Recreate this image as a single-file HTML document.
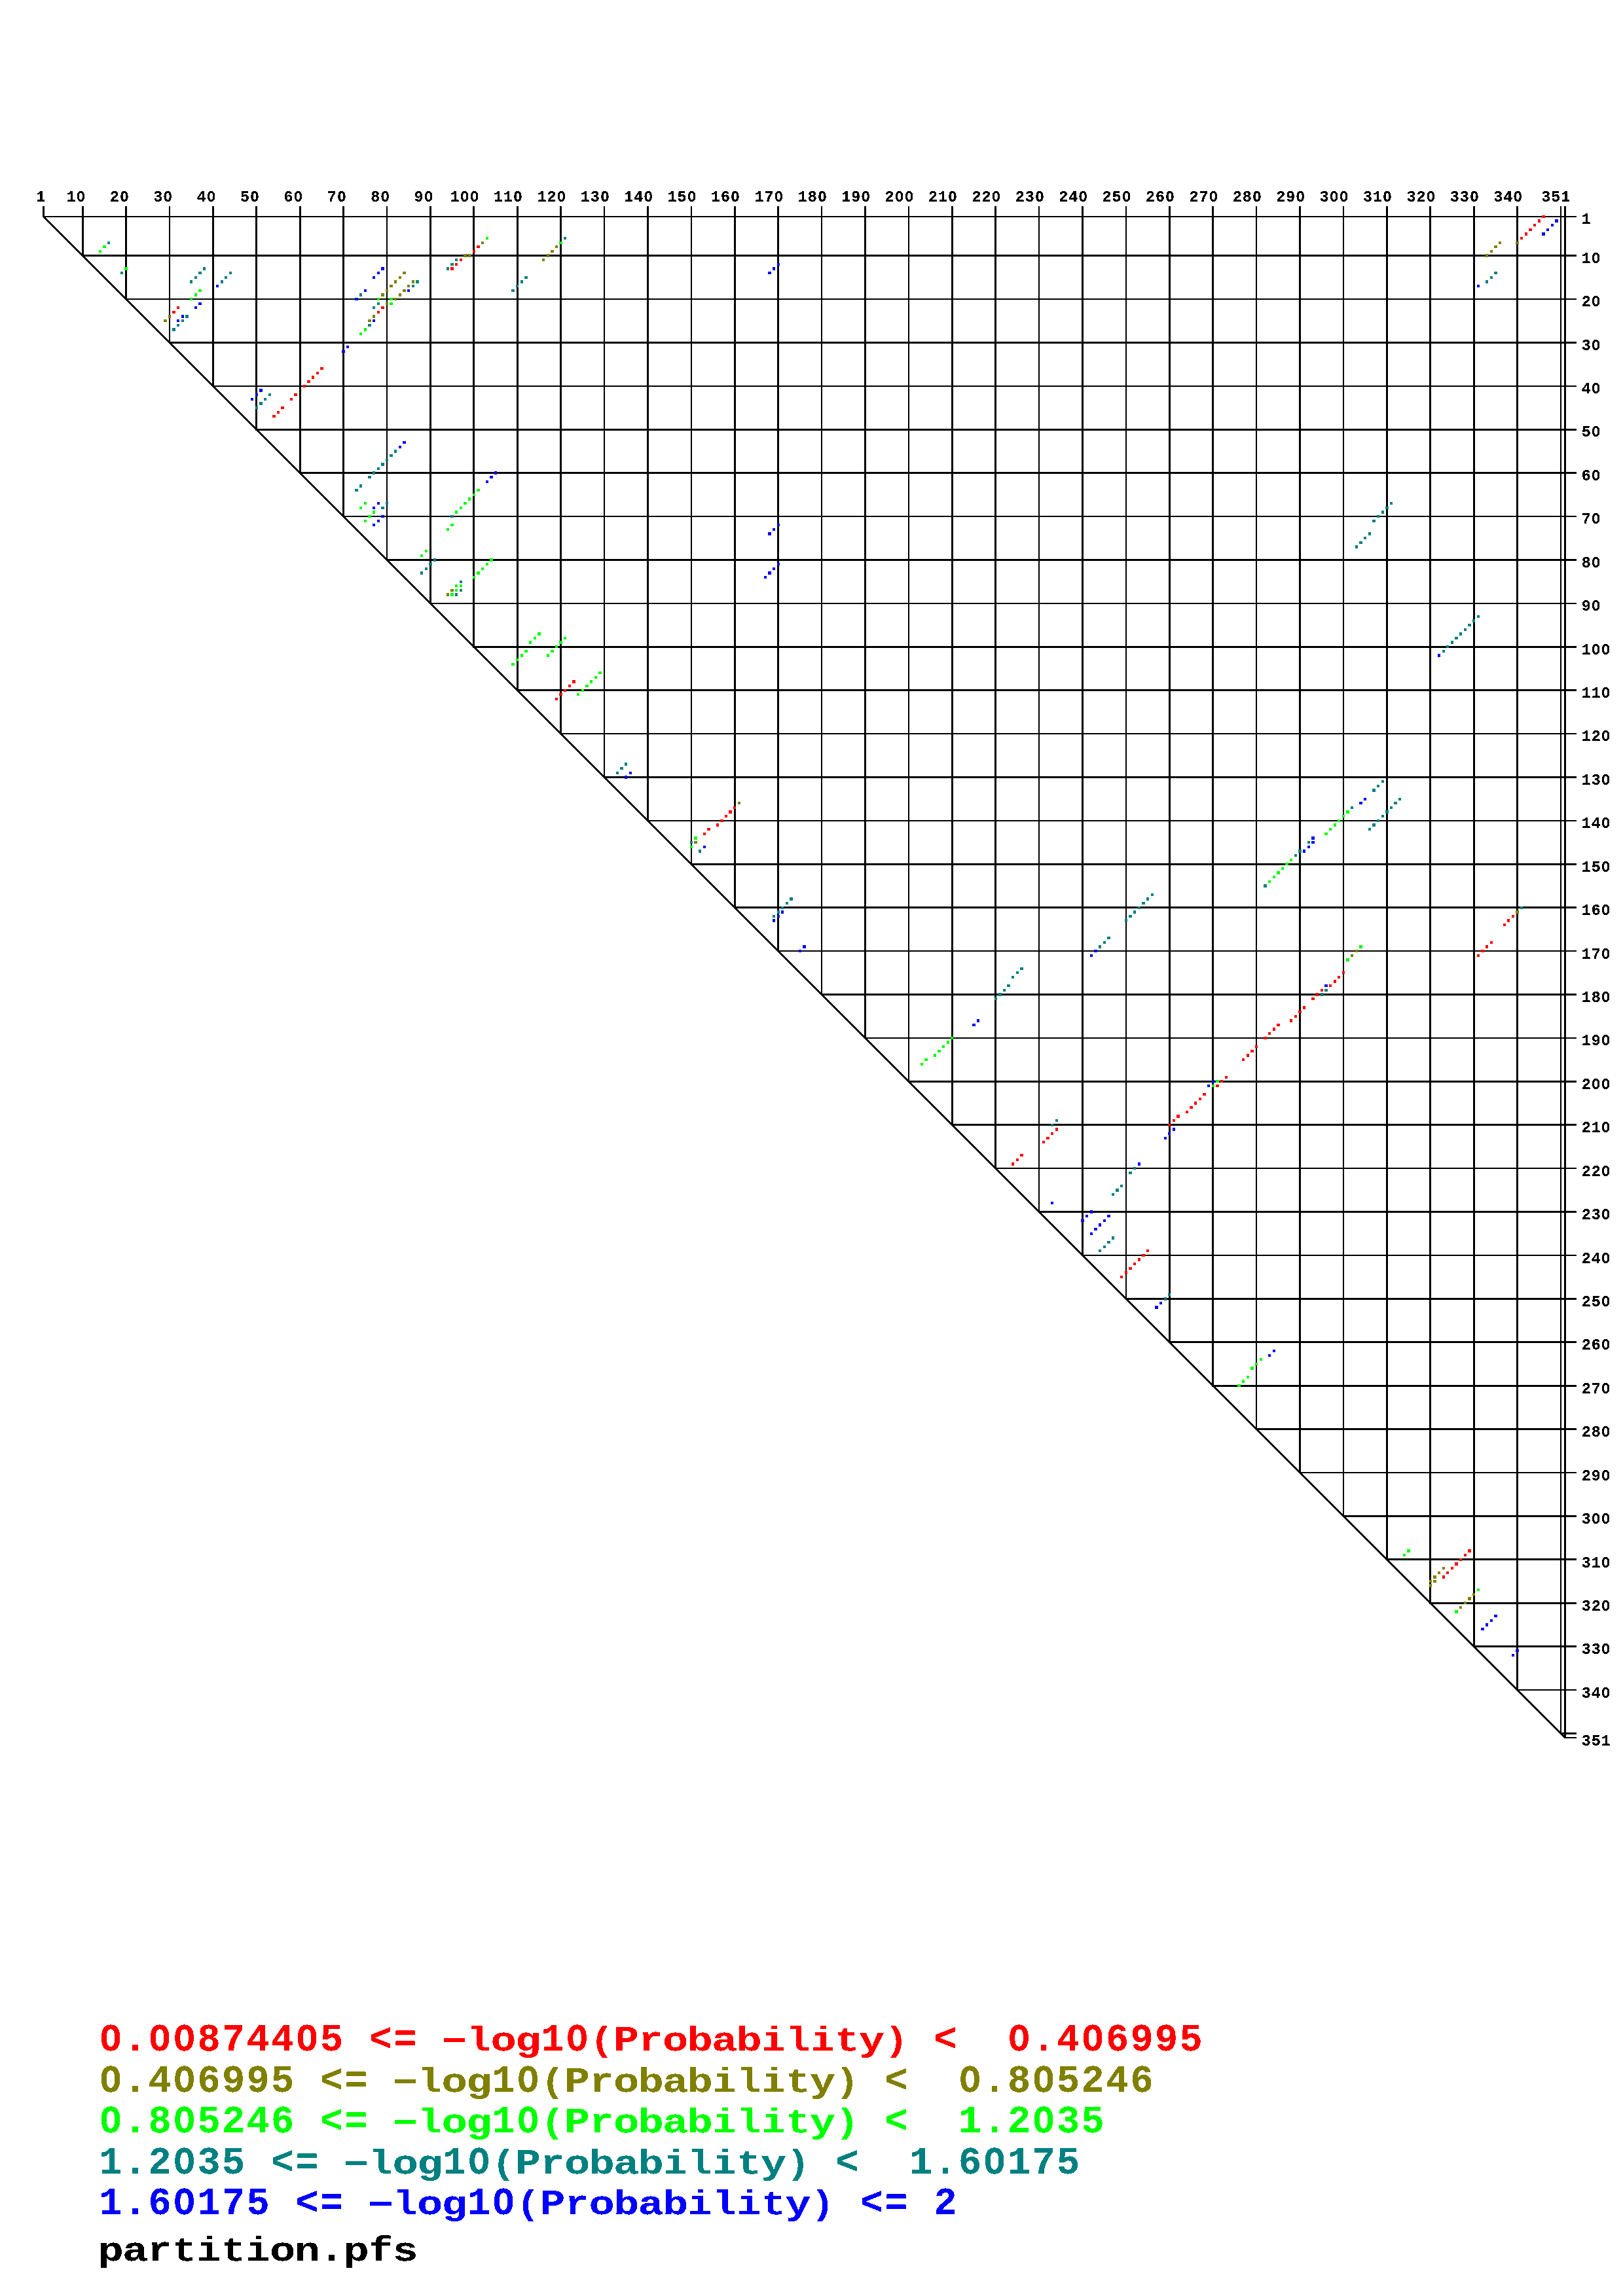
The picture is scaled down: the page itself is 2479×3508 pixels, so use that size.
<!DOCTYPE html>
<html><head><meta charset="utf-8"><title>partition.pfs</title>
<style>html,body{margin:0;padding:0;background:#fff;}body{width:2479px;height:3508px;overflow:hidden;position:relative;}svg{display:block;position:absolute;left:0;top:0;}text{font-family:"Liberation Mono",monospace;font-weight:bold;}.ax{font-size:23.4px;fill:#000;}.lg{font-size:58.5px;}</style></head><body>
<svg width="2479" height="3508" viewBox="0 0 2479 3508">
<defs><filter id="bin" x="-2%" y="-10%" width="104%" height="120%" color-interpolation-filters="sRGB"><feComponentTransfer><feFuncA type="discrete" tableValues="0 0 1 1 1"/></feComponentTransfer></filter></defs>
<rect width="2479" height="3508" fill="#fff"/>
<g fill="#000" shape-rendering="crispEdges">
<rect x="65" y="315" width="3" height="17"/>
<rect x="65" y="330" width="2343" height="2"/>
<rect x="125" y="315" width="3" height="77"/>
<rect x="125" y="389" width="2283" height="3"/>
<rect x="191" y="315" width="3" height="143"/>
<rect x="191" y="456" width="2217" height="2"/>
<rect x="258" y="315" width="2" height="210"/>
<rect x="258" y="522" width="2150" height="3"/>
<rect x="324" y="315" width="3" height="276"/>
<rect x="324" y="589" width="2084" height="2"/>
<rect x="390" y="315" width="3" height="343"/>
<rect x="390" y="655" width="2018" height="3"/>
<rect x="457" y="315" width="3" height="409"/>
<rect x="457" y="721" width="1951" height="3"/>
<rect x="523" y="315" width="3" height="475"/>
<rect x="523" y="788" width="1885" height="2"/>
<rect x="590" y="315" width="2" height="542"/>
<rect x="590" y="854" width="1818" height="3"/>
<rect x="656" y="315" width="3" height="608"/>
<rect x="656" y="921" width="1752" height="2"/>
<rect x="722" y="315" width="3" height="675"/>
<rect x="722" y="987" width="1686" height="3"/>
<rect x="789" y="315" width="3" height="741"/>
<rect x="789" y="1053" width="1619" height="3"/>
<rect x="855" y="315" width="3" height="807"/>
<rect x="855" y="1120" width="1553" height="2"/>
<rect x="922" y="315" width="2" height="874"/>
<rect x="922" y="1186" width="1486" height="3"/>
<rect x="988" y="315" width="3" height="940"/>
<rect x="988" y="1253" width="1420" height="2"/>
<rect x="1055" y="315" width="2" height="1007"/>
<rect x="1055" y="1319" width="1353" height="3"/>
<rect x="1121" y="315" width="3" height="1073"/>
<rect x="1121" y="1385" width="1287" height="3"/>
<rect x="1187" y="315" width="3" height="1139"/>
<rect x="1187" y="1452" width="1221" height="2"/>
<rect x="1254" y="315" width="2" height="1206"/>
<rect x="1254" y="1518" width="1154" height="3"/>
<rect x="1320" y="315" width="3" height="1272"/>
<rect x="1320" y="1585" width="1088" height="2"/>
<rect x="1387" y="315" width="2" height="1339"/>
<rect x="1387" y="1651" width="1021" height="3"/>
<rect x="1453" y="315" width="3" height="1405"/>
<rect x="1453" y="1717" width="955" height="3"/>
<rect x="1519" y="315" width="3" height="1471"/>
<rect x="1519" y="1784" width="889" height="2"/>
<rect x="1586" y="315" width="2" height="1538"/>
<rect x="1586" y="1850" width="822" height="3"/>
<rect x="1652" y="315" width="3" height="1604"/>
<rect x="1652" y="1917" width="756" height="2"/>
<rect x="1719" y="315" width="2" height="1671"/>
<rect x="1719" y="1983" width="689" height="3"/>
<rect x="1785" y="315" width="3" height="1737"/>
<rect x="1785" y="2049" width="623" height="3"/>
<rect x="1851" y="315" width="3" height="1804"/>
<rect x="1851" y="2116" width="557" height="3"/>
<rect x="1918" y="315" width="2" height="1870"/>
<rect x="1918" y="2182" width="490" height="3"/>
<rect x="1984" y="315" width="3" height="1936"/>
<rect x="1984" y="2249" width="424" height="2"/>
<rect x="2051" y="315" width="2" height="2003"/>
<rect x="2051" y="2315" width="357" height="3"/>
<rect x="2117" y="315" width="3" height="2069"/>
<rect x="2117" y="2381" width="291" height="3"/>
<rect x="2183" y="315" width="3" height="2136"/>
<rect x="2183" y="2448" width="225" height="3"/>
<rect x="2250" y="315" width="3" height="2202"/>
<rect x="2250" y="2514" width="158" height="3"/>
<rect x="2316" y="315" width="3" height="2268"/>
<rect x="2316" y="2581" width="92" height="2"/>
<rect x="2383" y="315" width="2" height="2335"/>
<rect x="2383" y="2647" width="25" height="3"/>
<rect x="2389" y="315" width="3" height="2341"/>
<rect x="2389" y="2654" width="19" height="2"/>
<line x1="66.41" y1="330.85" x2="2391.03" y2="2655.47" stroke="#000" stroke-width="2.8"/>
</g>
<g class="ax" filter="url(#bin)">
<text x="55.2" y="308.0">1</text>
<text transform="translate(116.99 308.0) scale(0.9161 1)">O</text>
<text x="101.4" y="308.0">1</text>
<text transform="translate(183.39 308.0) scale(0.9161 1)">O</text>
<text x="167.8" y="308.0">2</text>
<text transform="translate(249.79 308.0) scale(0.9161 1)">O</text>
<text x="234.2" y="308.0">3</text>
<text transform="translate(316.19 308.0) scale(0.9161 1)">O</text>
<text x="300.6" y="308.0">4</text>
<text transform="translate(382.59 308.0) scale(0.9161 1)">O</text>
<text x="367.0" y="308.0">5</text>
<text transform="translate(448.99 308.0) scale(0.9161 1)">O</text>
<text x="433.4" y="308.0">6</text>
<text transform="translate(515.39 308.0) scale(0.9161 1)">O</text>
<text x="499.8" y="308.0">7</text>
<text transform="translate(581.79 308.0) scale(0.9161 1)">O</text>
<text x="566.2" y="308.0">8</text>
<text transform="translate(648.19 308.0) scale(0.9161 1)">O</text>
<text x="632.6" y="308.0">9</text>
<text transform="translate(703.19 308.0) scale(0.9161 1)">O</text>
<text transform="translate(718.19 308.0) scale(0.9161 1)">O</text>
<text x="687.6" y="308.0">1</text>
<text transform="translate(784.59 308.0) scale(0.9161 1)">O</text>
<text x="754.0 769.0" y="308.0">11</text>
<text transform="translate(850.99 308.0) scale(0.9161 1)">O</text>
<text x="820.4 835.4" y="308.0">12</text>
<text transform="translate(917.39 308.0) scale(0.9161 1)">O</text>
<text x="886.8 901.8" y="308.0">13</text>
<text transform="translate(983.79 308.0) scale(0.9161 1)">O</text>
<text x="953.2 968.2" y="308.0">14</text>
<text transform="translate(1050.19 308.0) scale(0.9161 1)">O</text>
<text x="1019.6 1034.6" y="308.0">15</text>
<text transform="translate(1116.59 308.0) scale(0.9161 1)">O</text>
<text x="1086.0 1101.0" y="308.0">16</text>
<text transform="translate(1182.99 308.0) scale(0.9161 1)">O</text>
<text x="1152.4 1167.4" y="308.0">17</text>
<text transform="translate(1249.39 308.0) scale(0.9161 1)">O</text>
<text x="1218.8 1233.8" y="308.0">18</text>
<text transform="translate(1315.79 308.0) scale(0.9161 1)">O</text>
<text x="1285.2 1300.2" y="308.0">19</text>
<text transform="translate(1367.19 308.0) scale(0.9161 1)">O</text>
<text transform="translate(1382.19 308.0) scale(0.9161 1)">O</text>
<text x="1351.6" y="308.0">2</text>
<text transform="translate(1448.59 308.0) scale(0.9161 1)">O</text>
<text x="1418.0 1433.0" y="308.0">21</text>
<text transform="translate(1514.99 308.0) scale(0.9161 1)">O</text>
<text x="1484.4 1499.4" y="308.0">22</text>
<text transform="translate(1581.39 308.0) scale(0.9161 1)">O</text>
<text x="1550.8 1565.8" y="308.0">23</text>
<text transform="translate(1647.79 308.0) scale(0.9161 1)">O</text>
<text x="1617.2 1632.2" y="308.0">24</text>
<text transform="translate(1714.19 308.0) scale(0.9161 1)">O</text>
<text x="1683.6 1698.6" y="308.0">25</text>
<text transform="translate(1780.59 308.0) scale(0.9161 1)">O</text>
<text x="1750.0 1765.0" y="308.0">26</text>
<text transform="translate(1846.99 308.0) scale(0.9161 1)">O</text>
<text x="1816.4 1831.4" y="308.0">27</text>
<text transform="translate(1913.39 308.0) scale(0.9161 1)">O</text>
<text x="1882.8 1897.8" y="308.0">28</text>
<text transform="translate(1979.79 308.0) scale(0.9161 1)">O</text>
<text x="1949.2 1964.2" y="308.0">29</text>
<text transform="translate(2031.19 308.0) scale(0.9161 1)">O</text>
<text transform="translate(2046.19 308.0) scale(0.9161 1)">O</text>
<text x="2015.6" y="308.0">3</text>
<text transform="translate(2112.59 308.0) scale(0.9161 1)">O</text>
<text x="2082.0 2097.0" y="308.0">31</text>
<text transform="translate(2178.99 308.0) scale(0.9161 1)">O</text>
<text x="2148.4 2163.4" y="308.0">32</text>
<text transform="translate(2245.39 308.0) scale(0.9161 1)">O</text>
<text x="2214.8 2229.8" y="308.0">33</text>
<text transform="translate(2311.79 308.0) scale(0.9161 1)">O</text>
<text x="2281.2 2296.2" y="308.0">34</text>
<text x="2354.2 2369.2 2384.2" y="308.0">351</text>
<text x="2415.8" y="341.8">1</text>
<text transform="translate(2431.33 401.6) scale(0.9161 1)">O</text>
<text x="2415.8" y="401.6">1</text>
<text transform="translate(2431.33 468.1) scale(0.9161 1)">O</text>
<text x="2415.8" y="468.1">2</text>
<text transform="translate(2431.33 534.5) scale(0.9161 1)">O</text>
<text x="2415.8" y="534.5">3</text>
<text transform="translate(2431.33 600.9) scale(0.9161 1)">O</text>
<text x="2415.8" y="600.9">4</text>
<text transform="translate(2431.33 667.3) scale(0.9161 1)">O</text>
<text x="2415.8" y="667.3">5</text>
<text transform="translate(2431.33 733.8) scale(0.9161 1)">O</text>
<text x="2415.8" y="733.8">6</text>
<text transform="translate(2431.33 800.2) scale(0.9161 1)">O</text>
<text x="2415.8" y="800.2">7</text>
<text transform="translate(2431.33 866.6) scale(0.9161 1)">O</text>
<text x="2415.8" y="866.6">8</text>
<text transform="translate(2431.33 933.1) scale(0.9161 1)">O</text>
<text x="2415.8" y="933.1">9</text>
<text transform="translate(2431.33 999.5) scale(0.9161 1)">O</text>
<text transform="translate(2446.33 999.5) scale(0.9161 1)">O</text>
<text x="2415.8" y="999.5">1</text>
<text transform="translate(2446.33 1065.9) scale(0.9161 1)">O</text>
<text x="2415.8 2430.8" y="1065.9">11</text>
<text transform="translate(2446.33 1132.4) scale(0.9161 1)">O</text>
<text x="2415.8 2430.8" y="1132.4">12</text>
<text transform="translate(2446.33 1198.8) scale(0.9161 1)">O</text>
<text x="2415.8 2430.8" y="1198.8">13</text>
<text transform="translate(2446.33 1265.2) scale(0.9161 1)">O</text>
<text x="2415.8 2430.8" y="1265.2">14</text>
<text transform="translate(2446.33 1331.6) scale(0.9161 1)">O</text>
<text x="2415.8 2430.8" y="1331.6">15</text>
<text transform="translate(2446.33 1398.1) scale(0.9161 1)">O</text>
<text x="2415.8 2430.8" y="1398.1">16</text>
<text transform="translate(2446.33 1464.5) scale(0.9161 1)">O</text>
<text x="2415.8 2430.8" y="1464.5">17</text>
<text transform="translate(2446.33 1530.9) scale(0.9161 1)">O</text>
<text x="2415.8 2430.8" y="1530.9">18</text>
<text transform="translate(2446.33 1597.4) scale(0.9161 1)">O</text>
<text x="2415.8 2430.8" y="1597.4">19</text>
<text transform="translate(2431.33 1663.8) scale(0.9161 1)">O</text>
<text transform="translate(2446.33 1663.8) scale(0.9161 1)">O</text>
<text x="2415.8" y="1663.8">2</text>
<text transform="translate(2446.33 1730.2) scale(0.9161 1)">O</text>
<text x="2415.8 2430.8" y="1730.2">21</text>
<text transform="translate(2446.33 1796.7) scale(0.9161 1)">O</text>
<text x="2415.8 2430.8" y="1796.7">22</text>
<text transform="translate(2446.33 1863.1) scale(0.9161 1)">O</text>
<text x="2415.8 2430.8" y="1863.1">23</text>
<text transform="translate(2446.33 1929.5) scale(0.9161 1)">O</text>
<text x="2415.8 2430.8" y="1929.5">24</text>
<text transform="translate(2446.33 1996.0) scale(0.9161 1)">O</text>
<text x="2415.8 2430.8" y="1996.0">25</text>
<text transform="translate(2446.33 2062.4) scale(0.9161 1)">O</text>
<text x="2415.8 2430.8" y="2062.4">26</text>
<text transform="translate(2446.33 2128.8) scale(0.9161 1)">O</text>
<text x="2415.8 2430.8" y="2128.8">27</text>
<text transform="translate(2446.33 2195.2) scale(0.9161 1)">O</text>
<text x="2415.8 2430.8" y="2195.2">28</text>
<text transform="translate(2446.33 2261.7) scale(0.9161 1)">O</text>
<text x="2415.8 2430.8" y="2261.7">29</text>
<text transform="translate(2431.33 2328.1) scale(0.9161 1)">O</text>
<text transform="translate(2446.33 2328.1) scale(0.9161 1)">O</text>
<text x="2415.8" y="2328.1">3</text>
<text transform="translate(2446.33 2394.5) scale(0.9161 1)">O</text>
<text x="2415.8 2430.8" y="2394.5">31</text>
<text transform="translate(2446.33 2461.0) scale(0.9161 1)">O</text>
<text x="2415.8 2430.8" y="2461.0">32</text>
<text transform="translate(2446.33 2527.4) scale(0.9161 1)">O</text>
<text x="2415.8 2430.8" y="2527.4">33</text>
<text transform="translate(2446.33 2593.8) scale(0.9161 1)">O</text>
<text x="2415.8 2430.8" y="2593.8">34</text>
<text x="2415.8 2430.8 2445.8" y="2666.9">351</text>
</g>
<g shape-rendering="crispEdges">
<path fill="#0000ff" d="M330 435h4v4h-4zM297 468h4v4h-4zM303 462h5v4h-5zM270 488h4v4h-4zM277 481h4v5h-4zM383 608h4v4h-4zM390 601h4v4h-4zM396 594h5v5h-5zM522 535h5v4h-5zM529 528h4v4h-4zM569 422h4v4h-4zM576 415h4v4h-4zM582 408h5v5h-5zM542 455h5v4h-5zM556 442h4v4h-4zM569 488h4v4h-4zM622 442h4v4h-4zM1173 415h5v4h-5zM1180 408h4v5h-4zM1187 402h4v4h-4zM2355 355h5v5h-5zM2362 349h4v4h-4zM2369 342h4v4h-4zM2375 335h5v5h-5zM2256 435h4v4h-4zM609 681h4v4h-4zM615 674h5v4h-5zM569 774h4v4h-4zM576 767h4v4h-4zM569 800h4v4h-4zM576 794h4v4h-4zM582 787h5v4h-5zM742 734h4v4h-4zM748 727h5v4h-5zM755 720h4v5h-4zM954 1185h4v5h-4zM961 1179h4v4h-4zM1173 813h5v5h-5zM1180 807h4v4h-4zM1187 800h4v4h-4zM1167 880h4v4h-4zM1173 873h5v5h-5zM1180 867h4v4h-4zM1187 860h4v4h-4zM2196 999h4v5h-4zM1074 1292h4v4h-4zM1180 1404h4v5h-4zM1187 1398h4v4h-4zM1193 1391h4v5h-4zM1220 1451h4v4h-4zM1226 1444h5v5h-5zM2003 1278h5v5h-5zM1990 1298h4v5h-4zM1997 1292h4v4h-4zM2003 1285h5v4h-5zM2076 1225h5v4h-5zM2083 1219h4v4h-4zM2023 1504h5v4h-5zM1844 1657h4v4h-4zM1851 1650h4v4h-4zM1778 1737h4v4h-4zM1784 1730h4v4h-4zM1791 1723h4v5h-4zM1665 1458h4v4h-4zM1671 1451h5v4h-5zM1485 1564h5v4h-5zM1492 1557h4v5h-4zM1605 1836h4v4h-4zM1738 1776h4v5h-4zM1651 1863h5v4h-5zM1658 1856h4v4h-4zM1665 1849h4v5h-4zM1665 1883h4v4h-4zM1671 1876h5v4h-5zM1678 1869h4v5h-4zM1685 1863h4v4h-4zM1691 1856h5v4h-5zM1764 1995h5v5h-5zM1771 1989h4v4h-4zM1937 2069h4v4h-4zM1944 2062h4v4h-4zM2262 2487h5v4h-5zM2269 2480h4v5h-4zM2276 2474h4v4h-4zM2282 2467h5v4h-5zM2309 2527h4v4h-4zM2315 2520h5v4h-5z"/>
<path fill="#008080" d="M164 369h4v4h-4zM184 415h4v4h-4zM290 428h4v5h-4zM297 422h4v4h-4zM303 415h5v4h-5zM310 408h4v5h-4zM337 428h4v5h-4zM343 422h4v4h-4zM350 415h4v4h-4zM263 501h5v5h-5zM270 495h4v4h-4zM277 488h4v4h-4zM283 481h5v5h-5zM390 621h4v4h-4zM396 614h5v5h-5zM403 608h4v4h-4zM410 601h4v4h-4zM549 448h4v5h-4zM569 468h4v4h-4zM576 462h4v4h-4zM562 495h5v4h-5zM629 435h4v4h-4zM635 428h5v5h-5zM682 408h4v5h-4zM688 402h5v4h-5zM695 395h4v4h-4zM781 442h5v4h-5zM788 435h4v4h-4zM795 428h4v5h-4zM801 422h5v4h-5zM861 362h4v4h-4zM2269 428h4v5h-4zM2276 422h4v4h-4zM2282 415h5v4h-5zM542 747h5v4h-5zM549 740h4v5h-4zM562 727h5v4h-5zM569 720h4v5h-4zM576 714h4v4h-4zM582 707h5v5h-5zM589 701h4v4h-4zM595 694h5v4h-5zM602 687h4v5h-4zM582 774h5v4h-5zM589 767h4v4h-4zM688 787h5v4h-5zM642 873h4v5h-4zM649 867h4v4h-4zM655 860h5v4h-5zM662 853h4v5h-4zM702 887h4v4h-4zM695 906h4v5h-4zM702 900h4v4h-4zM941 1179h4v4h-4zM947 1172h5v4h-5zM954 1165h4v5h-4zM2070 833h4v5h-4zM2076 827h5v4h-5zM2083 820h4v4h-4zM2090 813h4v5h-4zM2096 794h5v4h-5zM2103 787h4v4h-4zM2110 780h4v5h-4zM2116 774h5v4h-5zM2123 767h4v4h-4zM2203 993h4v4h-4zM2209 986h4v4h-4zM2216 979h4v5h-4zM2222 973h5v4h-5zM2229 966h4v5h-4zM2236 960h4v4h-4zM2242 953h5v4h-5zM2249 946h4v5h-4zM2256 940h4v4h-4zM1054 1285h4v4h-4zM1067 1298h4v5h-4zM1180 1398h4v4h-4zM1187 1391h4v5h-4zM1193 1385h4v4h-4zM1200 1378h4v4h-4zM1206 1371h5v5h-5zM1930 1351h5v5h-5zM1977 1305h4v4h-4zM1983 1298h5v5h-5zM1997 1285h4v4h-4zM2063 1232h4v4h-4zM2096 1205h5v5h-5zM2103 1199h4v4h-4zM2110 1192h4v4h-4zM2090 1265h4v4h-4zM2096 1258h5v5h-5zM2103 1252h4v4h-4zM2110 1245h4v4h-4zM2116 1238h5v5h-5zM2123 1232h4v4h-4zM2129 1225h5v4h-5zM2136 1219h4v4h-4zM2017 1517h4v5h-4zM2023 1511h5v4h-5zM1718 1404h4v5h-4zM1724 1398h5v4h-5zM1731 1391h4v5h-4zM1738 1385h4v4h-4zM1744 1378h5v4h-5zM1751 1371h4v5h-4zM1758 1365h4v4h-4zM1678 1444h4v5h-4zM1685 1438h4v4h-4zM1691 1431h5v4h-5zM1545 1491h4v4h-4zM1552 1484h4v4h-4zM1558 1478h5v4h-5zM1519 1524h4v4h-4zM1525 1517h5v5h-5zM1532 1511h4v4h-4zM1538 1504h5v4h-5zM1605 1717h4v4h-4zM1612 1710h4v4h-4zM1724 1790h5v4h-5zM1731 1783h4v4h-4zM1698 1823h4v4h-4zM1704 1816h5v5h-5zM1711 1810h4v4h-4zM1678 1909h4v4h-4zM1685 1903h4v4h-4zM1691 1896h5v4h-5zM1698 1889h4v5h-4zM1778 1982h4v5h-4zM1784 1976h4v4h-4zM2322 1385h4v4h-4z"/>
<path fill="#00ff00" d="M151 382h4v4h-4zM157 375h5v4h-5zM190 408h5v5h-5zM290 455h4v4h-4zM297 448h4v5h-4zM303 442h5v4h-5zM576 455h4v4h-4zM595 455h5v4h-5zM549 508h4v4h-4zM556 501h4v5h-4zM595 462h5v4h-5zM742 362h4v4h-4zM854 369h5v4h-5zM549 774h4v4h-4zM556 767h4v4h-4zM556 794h4v4h-4zM562 787h5v4h-5zM569 780h4v5h-4zM682 807h4v4h-4zM688 800h5v4h-5zM695 780h4v5h-4zM702 774h4v4h-4zM708 767h5v4h-5zM715 760h4v5h-4zM722 754h4v4h-4zM728 747h5v4h-5zM642 847h4v4h-4zM649 840h4v4h-4zM695 893h4v4h-4zM688 906h5v5h-5zM695 900h4v4h-4zM702 893h4v4h-4zM722 880h4v4h-4zM728 873h5v5h-5zM735 867h4v4h-4zM742 860h4v4h-4zM748 853h5v5h-5zM781 1013h5v4h-5zM788 1006h4v4h-4zM795 999h4v5h-4zM801 993h5v4h-5zM808 979h4v5h-4zM815 973h4v4h-4zM821 966h5v5h-5zM835 999h4v5h-4zM841 993h5v4h-5zM848 986h4v4h-4zM854 979h5v5h-5zM861 973h4v4h-4zM881 1059h4v4h-4zM888 1053h4v4h-4zM894 1046h5v4h-5zM901 1039h4v5h-4zM908 1033h4v4h-4zM914 1026h5v4h-5zM1054 1292h4v4h-4zM1060 1278h5v5h-5zM1937 1345h4v4h-4zM1944 1338h4v4h-4zM1950 1331h5v5h-5zM1957 1325h4v4h-4zM1963 1318h5v4h-5zM1970 1312h4v4h-4zM2023 1272h5v4h-5zM2030 1265h4v4h-4zM2037 1258h4v5h-4zM2043 1252h4v4h-4zM2050 1245h4v4h-4zM2056 1238h5v5h-5zM2056 1464h5v5h-5zM2076 1444h5v5h-5zM1851 1657h4v4h-4zM1857 1650h5v4h-5zM1426 1610h4v5h-4zM1432 1604h5v4h-5zM1439 1597h4v4h-4zM1446 1590h4v5h-4zM1452 1584h4v4h-4zM1406 1624h4v4h-4zM1412 1617h5v4h-5zM1890 2115h5v4h-5zM1897 2108h4v5h-4zM1904 2102h4v4h-4zM1910 2088h5v5h-5zM1917 2082h4v4h-4zM1924 2075h4v4h-4zM2143 2374h4v4h-4zM2149 2367h5v5h-5zM2222 2460h5v5h-5zM2256 2427h4v4h-4z"/>
<path fill="#808000" d="M250 488h5v4h-5zM257 481h4v5h-4zM582 448h5v5h-5zM589 442h4v4h-4zM595 435h5v4h-5zM602 428h4v5h-4zM609 422h4v4h-4zM615 415h5v4h-5zM562 488h5v4h-5zM569 481h4v5h-4zM589 462h4v4h-4zM602 455h4v4h-4zM609 448h4v5h-4zM615 442h5v4h-5zM622 435h4v4h-4zM629 428h4v5h-4zM708 388h5v5h-5zM715 388h4v5h-4zM735 369h4v4h-4zM828 395h4v4h-4zM835 388h4v5h-4zM841 382h5v4h-5zM848 375h4v4h-4zM2269 388h4v5h-4zM2276 382h4v4h-4zM2282 375h5v4h-5zM2289 369h4v4h-4zM2315 369h5v4h-5zM682 906h4v5h-4zM688 900h5v4h-5zM1127 1225h4v4h-4zM1060 1285h5v4h-5zM2063 1458h4v4h-4zM2070 1451h4v4h-4zM2315 1391h5v5h-5zM2183 2414h4v4h-4zM2189 2407h5v5h-5zM2196 2401h4v4h-4zM2203 2394h4v4h-4zM2183 2420h4v5h-4zM2189 2414h5v4h-5zM2229 2454h4v4h-4zM2236 2447h4v4h-4zM2242 2440h5v5h-5zM2249 2434h4v4h-4z"/>
<path fill="#ff0000" d="M263 475h5v4h-5zM270 468h4v4h-4zM416 634h5v4h-5zM423 628h4v4h-4zM429 621h5v4h-5zM443 608h4v4h-4zM449 601h5v4h-5zM463 588h4v4h-4zM469 581h5v4h-5zM476 574h4v5h-4zM483 568h4v4h-4zM489 561h5v4h-5zM576 475h4v4h-4zM582 468h5v4h-5zM688 408h5v5h-5zM695 402h4v4h-4zM702 395h4v4h-4zM722 382h4v4h-4zM728 375h5v4h-5zM2322 362h4v4h-4zM2329 355h4v5h-4zM2335 349h5v4h-5zM2342 342h4v4h-4zM2349 335h4v5h-4zM2355 329h5v4h-5zM848 1066h4v4h-4zM854 1059h5v4h-5zM861 1053h4v4h-4zM868 1046h4v4h-4zM874 1039h5v5h-5zM1094 1258h4v5h-4zM1100 1252h5v4h-5zM1107 1245h4v4h-4zM1113 1238h5v5h-5zM1120 1232h4v4h-4zM1074 1272h4v4h-4zM1080 1265h5v4h-5zM2003 1524h5v4h-5zM2010 1517h4v5h-4zM2017 1511h4v4h-4zM2030 1504h4v4h-4zM2037 1497h4v5h-4zM2043 1491h4v4h-4zM2050 1484h4v4h-4zM1970 1557h4v5h-4zM1977 1551h4v4h-4zM1983 1544h5v4h-5zM1990 1537h4v5h-4zM1897 1617h4v4h-4zM1904 1610h4v5h-4zM1910 1604h5v4h-5zM1917 1597h4v4h-4zM1930 1584h5v4h-5zM1937 1577h4v4h-4zM1944 1570h4v5h-4zM1950 1564h5v4h-5zM1857 1657h5v4h-5zM1864 1650h4v4h-4zM1871 1644h4v4h-4zM1811 1697h4v4h-4zM1817 1690h5v4h-5zM1824 1683h4v5h-4zM1831 1677h4v4h-4zM1837 1670h5v4h-5zM1784 1717h4v4h-4zM1791 1710h4v4h-4zM1797 1703h5v5h-5zM1592 1743h4v4h-4zM1598 1737h5v4h-5zM1605 1730h4v4h-4zM1612 1723h4v5h-4zM1545 1776h4v5h-4zM1552 1770h4v4h-4zM1558 1763h5v4h-5zM1711 1949h4v4h-4zM1718 1942h4v5h-4zM1724 1936h5v4h-5zM1731 1929h4v4h-4zM1738 1922h4v5h-4zM1744 1916h5v4h-5zM1751 1909h4v4h-4zM2296 1411h4v4h-4zM2302 1404h4v5h-4zM2309 1398h4v4h-4zM2256 1458h4v4h-4zM2262 1451h5v4h-5zM2269 1444h4v5h-4zM2276 1438h4v4h-4zM2203 2407h4v5h-4zM2209 2401h4v4h-4zM2216 2394h4v4h-4zM2222 2387h5v5h-5zM2229 2381h4v4h-4zM2236 2374h4v4h-4zM2242 2367h5v5h-5z"/>
</g>
<g class="lg" filter="url(#bin)">
<text transform="translate(152.96 3133.1) scale(0.9161 1)" fill="#ff0000">O</text>
<text transform="translate(227.96 3133.1) scale(0.9161 1)" fill="#ff0000">O</text>
<text transform="translate(265.46 3133.1) scale(0.9161 1)" fill="#ff0000">O</text>
<text transform="translate(452.96 3133.1) scale(0.9161 1)" fill="#ff0000">O</text>
<text transform="translate(713.30 3133.1) scale(1.04 0.88)" fill="#ff0000">l</text>
<text transform="translate(749.39 3133.1) scale(1.12 0.88)" fill="#ff0000">o</text>
<text transform="translate(786.89 3133.1) scale(1.12 0.88)" fill="#ff0000">g</text>
<text transform="translate(865.46 3133.1) scale(0.9161 1)" fill="#ff0000">O</text>
<text transform="translate(901.50 3133.1) scale(1 0.88)" fill="#ff0000">(</text>
<text transform="translate(937.25 3133.1) scale(1.1 0.91)" fill="#ff0000">P</text>
<text transform="translate(975.80 3133.1) scale(1.04 0.88)" fill="#ff0000">r</text>
<text transform="translate(1011.89 3133.1) scale(1.12 0.88)" fill="#ff0000">o</text>
<text transform="translate(1049.39 3133.1) scale(1.12 0.88)" fill="#ff0000">b</text>
<text transform="translate(1086.89 3133.1) scale(1.12 0.88)" fill="#ff0000">a</text>
<text transform="translate(1124.39 3133.1) scale(1.12 0.88)" fill="#ff0000">b</text>
<text transform="translate(1163.30 3133.1) scale(1.04 0.88)" fill="#ff0000">i</text>
<text transform="translate(1200.80 3133.1) scale(1.04 0.88)" fill="#ff0000">l</text>
<text transform="translate(1238.30 3133.1) scale(1.04 0.88)" fill="#ff0000">i</text>
<text transform="translate(1275.80 3133.1) scale(1.04 0.88)" fill="#ff0000">t</text>
<text transform="translate(1311.89 3133.1) scale(1.12 0.88)" fill="#ff0000">y</text>
<text transform="translate(1351.50 3133.1) scale(1 0.88)" fill="#ff0000">)</text>
<text transform="translate(1540.46 3133.1) scale(0.9161 1)" fill="#ff0000">O</text>
<text transform="translate(1652.96 3133.1) scale(0.9161 1)" fill="#ff0000">O</text>
<text x="189.0 301.5 339.0 376.5 414.0 489.0 564.0 601.5 676.5 826.5 1426.5 1576.5 1614.0 1689.0 1726.5 1764.0 1801.5" y="3133.1" fill="#ff0000">.87445&lt;=&#x2012;1&lt;.46995</text>
<text transform="translate(152.96 3195.7) scale(0.9161 1)" fill="#808000">O</text>
<text transform="translate(265.46 3195.7) scale(0.9161 1)" fill="#808000">O</text>
<text transform="translate(638.30 3195.7) scale(1.04 0.88)" fill="#808000">l</text>
<text transform="translate(674.39 3195.7) scale(1.12 0.88)" fill="#808000">o</text>
<text transform="translate(711.89 3195.7) scale(1.12 0.88)" fill="#808000">g</text>
<text transform="translate(790.46 3195.7) scale(0.9161 1)" fill="#808000">O</text>
<text transform="translate(826.50 3195.7) scale(1 0.88)" fill="#808000">(</text>
<text transform="translate(862.25 3195.7) scale(1.1 0.91)" fill="#808000">P</text>
<text transform="translate(900.80 3195.7) scale(1.04 0.88)" fill="#808000">r</text>
<text transform="translate(936.89 3195.7) scale(1.12 0.88)" fill="#808000">o</text>
<text transform="translate(974.39 3195.7) scale(1.12 0.88)" fill="#808000">b</text>
<text transform="translate(1011.89 3195.7) scale(1.12 0.88)" fill="#808000">a</text>
<text transform="translate(1049.39 3195.7) scale(1.12 0.88)" fill="#808000">b</text>
<text transform="translate(1088.30 3195.7) scale(1.04 0.88)" fill="#808000">i</text>
<text transform="translate(1125.80 3195.7) scale(1.04 0.88)" fill="#808000">l</text>
<text transform="translate(1163.30 3195.7) scale(1.04 0.88)" fill="#808000">i</text>
<text transform="translate(1200.80 3195.7) scale(1.04 0.88)" fill="#808000">t</text>
<text transform="translate(1236.89 3195.7) scale(1.12 0.88)" fill="#808000">y</text>
<text transform="translate(1276.50 3195.7) scale(1 0.88)" fill="#808000">)</text>
<text transform="translate(1465.46 3195.7) scale(0.9161 1)" fill="#808000">O</text>
<text transform="translate(1577.96 3195.7) scale(0.9161 1)" fill="#808000">O</text>
<text x="189.0 226.5 301.5 339.0 376.5 414.0 489.0 526.5 601.5 751.5 1351.5 1501.5 1539.0 1614.0 1651.5 1689.0 1726.5" y="3195.7" fill="#808000">.46995&lt;=&#x2012;1&lt;.85246</text>
<text transform="translate(152.96 3258.2) scale(0.9161 1)" fill="#00ff00">O</text>
<text transform="translate(265.46 3258.2) scale(0.9161 1)" fill="#00ff00">O</text>
<text transform="translate(638.30 3258.2) scale(1.04 0.88)" fill="#00ff00">l</text>
<text transform="translate(674.39 3258.2) scale(1.12 0.88)" fill="#00ff00">o</text>
<text transform="translate(711.89 3258.2) scale(1.12 0.88)" fill="#00ff00">g</text>
<text transform="translate(790.46 3258.2) scale(0.9161 1)" fill="#00ff00">O</text>
<text transform="translate(826.50 3258.2) scale(1 0.88)" fill="#00ff00">(</text>
<text transform="translate(862.25 3258.2) scale(1.1 0.91)" fill="#00ff00">P</text>
<text transform="translate(900.80 3258.2) scale(1.04 0.88)" fill="#00ff00">r</text>
<text transform="translate(936.89 3258.2) scale(1.12 0.88)" fill="#00ff00">o</text>
<text transform="translate(974.39 3258.2) scale(1.12 0.88)" fill="#00ff00">b</text>
<text transform="translate(1011.89 3258.2) scale(1.12 0.88)" fill="#00ff00">a</text>
<text transform="translate(1049.39 3258.2) scale(1.12 0.88)" fill="#00ff00">b</text>
<text transform="translate(1088.30 3258.2) scale(1.04 0.88)" fill="#00ff00">i</text>
<text transform="translate(1125.80 3258.2) scale(1.04 0.88)" fill="#00ff00">l</text>
<text transform="translate(1163.30 3258.2) scale(1.04 0.88)" fill="#00ff00">i</text>
<text transform="translate(1200.80 3258.2) scale(1.04 0.88)" fill="#00ff00">t</text>
<text transform="translate(1236.89 3258.2) scale(1.12 0.88)" fill="#00ff00">y</text>
<text transform="translate(1276.50 3258.2) scale(1 0.88)" fill="#00ff00">)</text>
<text transform="translate(1577.96 3258.2) scale(0.9161 1)" fill="#00ff00">O</text>
<text x="189.0 226.5 301.5 339.0 376.5 414.0 489.0 526.5 601.5 751.5 1351.5 1464.0 1501.5 1539.0 1614.0 1651.5" y="3258.2" fill="#00ff00">.85246&lt;=&#x2012;1&lt;1.235</text>
<text transform="translate(265.46 3320.8) scale(0.9161 1)" fill="#008080">O</text>
<text transform="translate(563.30 3320.8) scale(1.04 0.88)" fill="#008080">l</text>
<text transform="translate(599.39 3320.8) scale(1.12 0.88)" fill="#008080">o</text>
<text transform="translate(636.89 3320.8) scale(1.12 0.88)" fill="#008080">g</text>
<text transform="translate(715.46 3320.8) scale(0.9161 1)" fill="#008080">O</text>
<text transform="translate(751.50 3320.8) scale(1 0.88)" fill="#008080">(</text>
<text transform="translate(787.25 3320.8) scale(1.1 0.91)" fill="#008080">P</text>
<text transform="translate(825.80 3320.8) scale(1.04 0.88)" fill="#008080">r</text>
<text transform="translate(861.89 3320.8) scale(1.12 0.88)" fill="#008080">o</text>
<text transform="translate(899.39 3320.8) scale(1.12 0.88)" fill="#008080">b</text>
<text transform="translate(936.89 3320.8) scale(1.12 0.88)" fill="#008080">a</text>
<text transform="translate(974.39 3320.8) scale(1.12 0.88)" fill="#008080">b</text>
<text transform="translate(1013.30 3320.8) scale(1.04 0.88)" fill="#008080">i</text>
<text transform="translate(1050.80 3320.8) scale(1.04 0.88)" fill="#008080">l</text>
<text transform="translate(1088.30 3320.8) scale(1.04 0.88)" fill="#008080">i</text>
<text transform="translate(1125.80 3320.8) scale(1.04 0.88)" fill="#008080">t</text>
<text transform="translate(1161.89 3320.8) scale(1.12 0.88)" fill="#008080">y</text>
<text transform="translate(1201.50 3320.8) scale(1 0.88)" fill="#008080">)</text>
<text transform="translate(1502.96 3320.8) scale(0.9161 1)" fill="#008080">O</text>
<text x="151.5 189.0 226.5 301.5 339.0 414.0 451.5 526.5 676.5 1276.5 1389.0 1426.5 1464.0 1539.0 1576.5 1614.0" y="3320.8" fill="#008080">1.235&lt;=&#x2012;1&lt;1.6175</text>
<text transform="translate(265.46 3383.1) scale(0.9161 1)" fill="#0000ff">O</text>
<text transform="translate(600.80 3383.1) scale(1.04 0.88)" fill="#0000ff">l</text>
<text transform="translate(636.89 3383.1) scale(1.12 0.88)" fill="#0000ff">o</text>
<text transform="translate(674.39 3383.1) scale(1.12 0.88)" fill="#0000ff">g</text>
<text transform="translate(752.96 3383.1) scale(0.9161 1)" fill="#0000ff">O</text>
<text transform="translate(789.00 3383.1) scale(1 0.88)" fill="#0000ff">(</text>
<text transform="translate(824.75 3383.1) scale(1.1 0.91)" fill="#0000ff">P</text>
<text transform="translate(863.30 3383.1) scale(1.04 0.88)" fill="#0000ff">r</text>
<text transform="translate(899.39 3383.1) scale(1.12 0.88)" fill="#0000ff">o</text>
<text transform="translate(936.89 3383.1) scale(1.12 0.88)" fill="#0000ff">b</text>
<text transform="translate(974.39 3383.1) scale(1.12 0.88)" fill="#0000ff">a</text>
<text transform="translate(1011.89 3383.1) scale(1.12 0.88)" fill="#0000ff">b</text>
<text transform="translate(1050.80 3383.1) scale(1.04 0.88)" fill="#0000ff">i</text>
<text transform="translate(1088.30 3383.1) scale(1.04 0.88)" fill="#0000ff">l</text>
<text transform="translate(1125.80 3383.1) scale(1.04 0.88)" fill="#0000ff">i</text>
<text transform="translate(1163.30 3383.1) scale(1.04 0.88)" fill="#0000ff">t</text>
<text transform="translate(1199.39 3383.1) scale(1.12 0.88)" fill="#0000ff">y</text>
<text transform="translate(1239.00 3383.1) scale(1 0.88)" fill="#0000ff">)</text>
<text x="151.5 189.0 226.5 301.5 339.0 376.5 451.5 489.0 564.0 714.0 1314.0 1351.5 1426.5" y="3383.1" fill="#0000ff">1.6175&lt;=&#x2012;1&lt;=2</text>
<text transform="translate(149.39 3453.5) scale(1.12 0.88)" fill="#000">p</text>
<text transform="translate(186.89 3453.5) scale(1.12 0.88)" fill="#000">a</text>
<text transform="translate(225.80 3453.5) scale(1.04 0.88)" fill="#000">r</text>
<text transform="translate(263.30 3453.5) scale(1.04 0.88)" fill="#000">t</text>
<text transform="translate(300.80 3453.5) scale(1.04 0.88)" fill="#000">i</text>
<text transform="translate(338.30 3453.5) scale(1.04 0.88)" fill="#000">t</text>
<text transform="translate(375.80 3453.5) scale(1.04 0.88)" fill="#000">i</text>
<text transform="translate(411.89 3453.5) scale(1.12 0.88)" fill="#000">o</text>
<text transform="translate(449.39 3453.5) scale(1.12 0.88)" fill="#000">n</text>
<text transform="translate(524.39 3453.5) scale(1.12 0.88)" fill="#000">p</text>
<text transform="translate(563.30 3453.5) scale(1.04 0.88)" fill="#000">f</text>
<text transform="translate(599.39 3453.5) scale(1.12 0.88)" fill="#000">s</text>
<text x="489.0" y="3453.5" fill="#000">.</text>
</g>
</svg></body></html>
